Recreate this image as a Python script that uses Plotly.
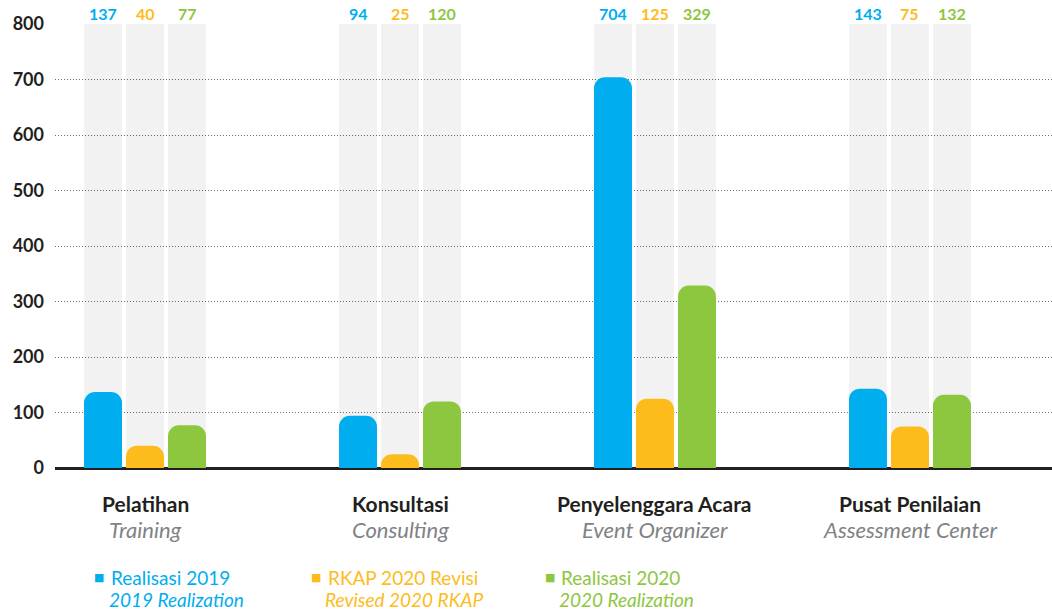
import plotly.graph_objects as go

categories = ["Pelatihan", "Konsultasi", "Penyelenggara Acara", "Pusat Penilaian"]
categories_en = ["Training", "Consulting", "Event Organizer", "Assessment Center"]
realisasi_2019 = [137, 94, 704, 143]
rkap_2020_revisi = [40, 25, 125, 75]
realisasi_2020 = [77, 120, 329, 132]
series_names = ["Realisasi 2019", "RKAP 2020 Revisi", "Realisasi 2020"]
series_names_en = ["2019 Realization", "Revised 2020 RKAP", "2020 Realization"]
y_ticks = [0, 100, 200, 300, 400, 500, 600, 700, 800]
y_max = 800

colors = ["#00AEEF", "#FDBB1C", "#8DC63F"]
series = [realisasi_2019, rkap_2020_revisi, realisasi_2020]
label_shift_px = [-42, 0, 42]
FONT = "Lato, 'Open Sans', sans-serif"

W, H = 1052, 611
PLOT_L, PLOT_R, PLOT_T, PLOT_B = 55, 1052, 24, 468
X_RANGE = [-0.353, 3.557]


def px_x(px):
    return (px - PLOT_L) / (PLOT_R - PLOT_L)


def px_y(py):
    return (PLOT_B - py) / (PLOT_B - PLOT_T)


fig = go.Figure()
# grey full-height columns on the base x axis (translucent so the dotted grid shows through)
for i in range(3):
    fig.add_trace(go.Bar(
        x=categories, y=[y_max] * len(categories), xaxis="x", yaxis="y",
        marker=dict(color="rgba(0,0,0,0.05)", line=dict(width=0)),
        hoverinfo="skip", showlegend=False))
# coloured value bars on an overlaying x axis
for vals, col, name in zip(series, colors, series_names):
    fig.add_trace(go.Bar(
        x=categories, y=vals, name=name, xaxis="x2", yaxis="y",
        marker=dict(color=col, cornerradius=11, line=dict(width=0)),
        showlegend=False))

annotations = []
for vals, col, sh in zip(series, colors, label_shift_px):
    for c, v in zip(categories, vals):
        annotations.append(dict(x=c, y=1, xref="x", yref="paper", text=str(v), showarrow=False,
                                xanchor="center", yanchor="middle", xshift=sh, yshift=PLOT_T - 13,
                                font=dict(family=FONT, size=16, color=col, weight="bold")))

for c, ce in zip(categories, categories_en):
    annotations.append(dict(x=c, y=px_y(503), xref="x", yref="paper", text=c, showarrow=False,
                            xanchor="center", yanchor="middle",
                            font=dict(family=FONT, size=21, color="#231F20", weight="bold")))
    annotations.append(dict(x=c, y=px_y(529), xref="x", yref="paper", text=ce, showarrow=False,
                            xanchor="center", yanchor="middle",
                            font=dict(family=FONT, size=22, color="#808285", style="italic")))

legend_sq_px = [99, 316, 550]
legend_txt_px = [109, 326, 559]
legend_txt2_px = [107, 323, 557]
for i in range(3):
    annotations.append(dict(x=px_x(legend_sq_px[i]), y=px_y(577), xref="paper", yref="paper",
                            text="■", showarrow=False, xanchor="center", yanchor="middle",
                            font=dict(family="DejaVu Sans", size=11, color=colors[i])))
    annotations.append(dict(x=px_x(legend_txt_px[i]), y=px_y(577), xref="paper", yref="paper",
                            text=series_names[i], showarrow=False, xanchor="left", yanchor="middle",
                            font=dict(family=FONT, size=19, color=colors[i])))
    annotations.append(dict(x=px_x(legend_txt2_px[i]), y=px_y(599), xref="paper", yref="paper",
                            text=series_names_en[i], showarrow=False, xanchor="left", yanchor="middle",
                            font=dict(family=FONT, size=19, color=colors[i], style="italic")))

xaxis_common = dict(type="category", categoryorder="array", categoryarray=categories,
                    range=X_RANGE, showticklabels=False, showgrid=False,
                    zeroline=False, showline=False, ticks="", fixedrange=True)

fig.update_layout(
    width=W, height=H,
    margin=dict(l=PLOT_L, r=W - PLOT_R, t=PLOT_T, b=H - PLOT_B, autoexpand=False),
    barmode="group",
    bargap=1 - 126 / 255,
    bargroupgap=1 - 38 / 42,
    plot_bgcolor="white", paper_bgcolor="white",
    font=dict(family=FONT),
    showlegend=False,
    annotations=annotations,
    xaxis=xaxis_common,
    xaxis2=dict(xaxis_common, overlaying="x", anchor="y", side="bottom"),
    yaxis=dict(range=[0, y_max], tickvals=y_ticks, showgrid=True, gridcolor="#6d6d6d",
               griddash="1px,2px", gridwidth=1, zeroline=True, zerolinecolor="#231F20",
               zerolinewidth=3, showline=False, ticks="", ticklabelstandoff=10,
               fixedrange=True,
               tickfont=dict(family=FONT, size=18, color="#231F20", weight="bold")),
)

fig.write_html("out.html", config={"displayModeBar": False},
               post_script="document.body.style.margin='0';document.body.style.overflow='hidden';")
